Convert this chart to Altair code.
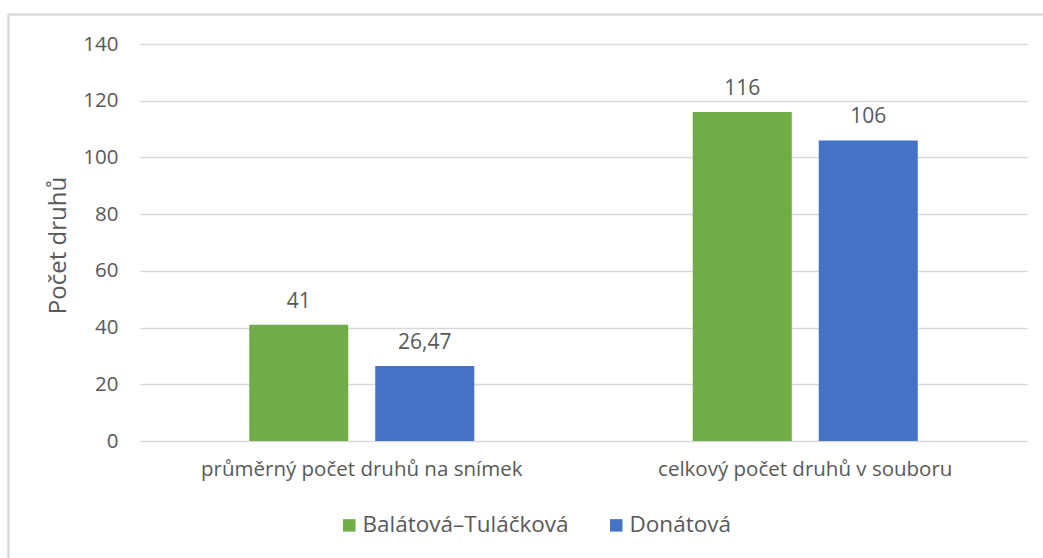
import altair as alt
import pandas as pd

categories = ["průměrný počet druhů na snímek", "celkový počet druhů v souboru"]
series = ["Balátová–Tuláčková", "Donátová"]
values_balatova = [41, 116]
values_donatova = [26.47, 106]
colors = ["#70AD47", "#4472C4"]
y_ticks = [0, 20, 40, 60, 80, 100, 120, 140]

rows = []
for cat, v in zip(categories, values_balatova):
    rows.append({"kategorie": cat, "serie": series[0], "hodnota": v})
for cat, v in zip(categories, values_donatova):
    rows.append({"kategorie": cat, "serie": series[1], "hodnota": v})
df = pd.DataFrame(rows)
df["popisek"] = df["hodnota"].map(lambda v: (f"{v:g}").replace(".", ","))

FONT = "Open Sans"
FS = 20.5
TXT = "#595959"
GRID = "#d9d9d9"

x_enc = alt.X("kategorie:N", sort=categories,
              scale=alt.Scale(paddingInner=0, paddingOuter=0),
              axis=alt.Axis(title=None, labelAngle=0, ticks=False, domain=False,
                            labelPadding=18, labelFontSize=FS, labelColor=TXT,
                            labelFont=FONT, labelLimit=0))
xo_enc = alt.XOffset("serie:N", sort=series,
                     scale=alt.Scale(paddingInner=0.214, paddingOuter=0.867))
y_enc = alt.Y("hodnota:Q",
              scale=alt.Scale(domain=[0, 140], nice=False),
              axis=alt.Axis(values=y_ticks, title="Počet druhů", domain=False, ticks=False,
                            labelPadding=22, labelFontSize=FS, labelColor=TXT, labelFont=FONT,
                            gridColor=GRID, gridWidth=1.3,
                            titleFont=FONT, titleFontSize=24, titleColor=TXT,
                            titleFontWeight="normal", titleX=-82, titleY=201,
                            titleAngle=270, titleBaseline="middle", titleAlign="center"))
color_enc = alt.Color("serie:N", sort=series,
                      scale=alt.Scale(domain=series, range=colors),
                      legend=alt.Legend(title=None, orient="none", direction="horizontal",
                                        legendX=198, legendY=470, padding=0,
                                        symbolType="square", symbolSize=155,
                                        symbolStrokeWidth=0, symbolOpacity=1,
                                        labelFont=FONT, labelFontSize=22.5, labelColor=TXT,
                                        labelOffset=2, columnPadding=36, labelLimit=0))

base = alt.Chart(df)
bars = base.mark_bar().encode(x=x_enc, xOffset=xo_enc, y=y_enc, color=color_enc)
labels = base.mark_text(baseline="alphabetic", dy=-17, font=FONT, fontSize=21,
                        color=TXT).encode(
    x=alt.X("kategorie:N", sort=categories),
    xOffset=alt.XOffset("serie:N", sort=series),
    y="hodnota:Q", text="popisek:N")

border_top = alt.Chart(df).mark_rule(color=GRID, strokeWidth=1.5).encode(
    x=alt.value(-132), x2=alt.value(905), y=alt.value(-29.5))
border_left = alt.Chart(df).mark_rule(color=GRID, strokeWidth=1.5).encode(
    x=alt.value(-131.5), y=alt.value(-30), y2=alt.value(520))

chart = alt.layer(bars, labels, border_top, border_left).properties(
    width=887, height=397,
    autosize=alt.AutoSizeParams(type="none"),
    padding={"left": 140, "top": 44, "right": 16, "bottom": 117},
    background="white",
).configure_view(stroke=None)

chart.save("out.html", embed_options={"renderer": "svg", "actions": False})
